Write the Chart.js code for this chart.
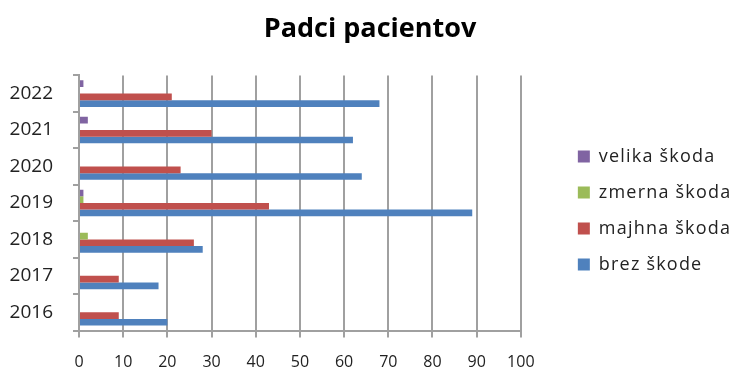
<!DOCTYPE html>
<html>
<head>
<meta charset="utf-8">
<script src="https://cdn.jsdelivr.net/npm/chart.js"></script>
<style>
  html, body { margin: 0; padding: 0; background: #fff; }
  #wrap { width: 732px; height: 371px; }
</style>
</head>
<body>
<div id="wrap"><canvas id="padci"></canvas></div>
<script>
// leta in število padcev po stopnji škode
const leta = ['2016', '2017', '2018', '2019', '2020', '2021', '2022'];
const brezSkode = [20, 18, 28, 89, 64, 62, 68];
const majhnaSkoda = [9, 9, 26, 43, 23, 30, 21];
const zmernaSkoda = [0, 0, 2, 1, 0, 0, 0];
const velikaSkoda = [0, 0, 0, 1, 0, 2, 1];
const osX = { min: 0, max: 100, korak: 10 };

const pisava = '"Open Sans", "Noto Sans", sans-serif';
const sivaMreza = '#a0a0a0';

function serija(ime, podatki, barva) {
  return {
    label: ime,
    data: podatki,
    backgroundColor: barva,
    borderWidth: 0,
    barPercentage: 1,
    categoryPercentage: 0.73
  };
}

// legenda dobi prostor na levi, da ostane ločena od grafa, in malo razprto pisavo
const razmikLegende = {
  id: 'razmikLegende',
  afterInit(chart) {
    const legenda = chart.legend;
    const fit = legenda.fit;
    legenda.fit = function () {
      fit.call(this);
      this.width += 44;
    };
    const draw = legenda.draw;
    legenda.draw = function () {
      const ctx = this.ctx;
      ctx.save();
      ctx.translate(39, 21);
      ctx.letterSpacing = '1.2px';
      draw.call(this);
      ctx.restore();
    };
  }
};

new Chart(document.getElementById('padci'), {
  type: 'bar',
  data: {
    labels: leta,
    datasets: [
      serija('velika škoda', velikaSkoda, '#8064A2'),
      serija('zmerna škoda', zmernaSkoda, '#9BBB59'),
      serija('majhna škoda', majhnaSkoda, '#C0504D'),
      serija('brez škode', brezSkode, '#4F81BD')
    ]
  },
  plugins: [razmikLegende],
  options: {
    indexAxis: 'y',
    responsive: true,
    maintainAspectRatio: false,
    animation: false,
    layout: { padding: { left: 8, right: 0, top: 8, bottom: 0 } },
    plugins: {
      title: {
        display: true,
        text: 'Padci pacientov',
        color: '#000',
        font: { family: pisava, size: 27, weight: 'bold' },
        padding: { top: 5, bottom: 30 }
      },
      legend: {
        position: 'right',
        labels: {
          boxWidth: 12,
          boxHeight: 12,
          padding: 18,
          color: '#222',
          font: { family: pisava, size: 18 }
        }
      },
      tooltip: { enabled: false }
    },
    scales: {
      x: {
        min: osX.min,
        max: osX.max,
        afterFit(os) { os.height = 40.5; },
        ticks: {
          stepSize: osX.korak,
          color: '#222',
          padding: 15,
          maxRotation: 0,
          font: { family: pisava, size: 16 }
        },
        grid: {
          color: sivaMreza,
          lineWidth: 2,
          tickLength: 7
        },
        border: { color: sivaMreza, width: 2 }
      },
      y: {
        reverse: true,
        afterFit(os) { os.width = 71; },
        ticks: {
          color: '#222',
          padding: 20,
          font: { family: pisava, size: 19 }
        },
        grid: {
          offset: true,
          drawOnChartArea: false,
          color: sivaMreza,
          lineWidth: 2,
          tickLength: 6
        },
        border: { color: sivaMreza, width: 2 }
      }
    }
  }
});
</script>
</body>
</html>
